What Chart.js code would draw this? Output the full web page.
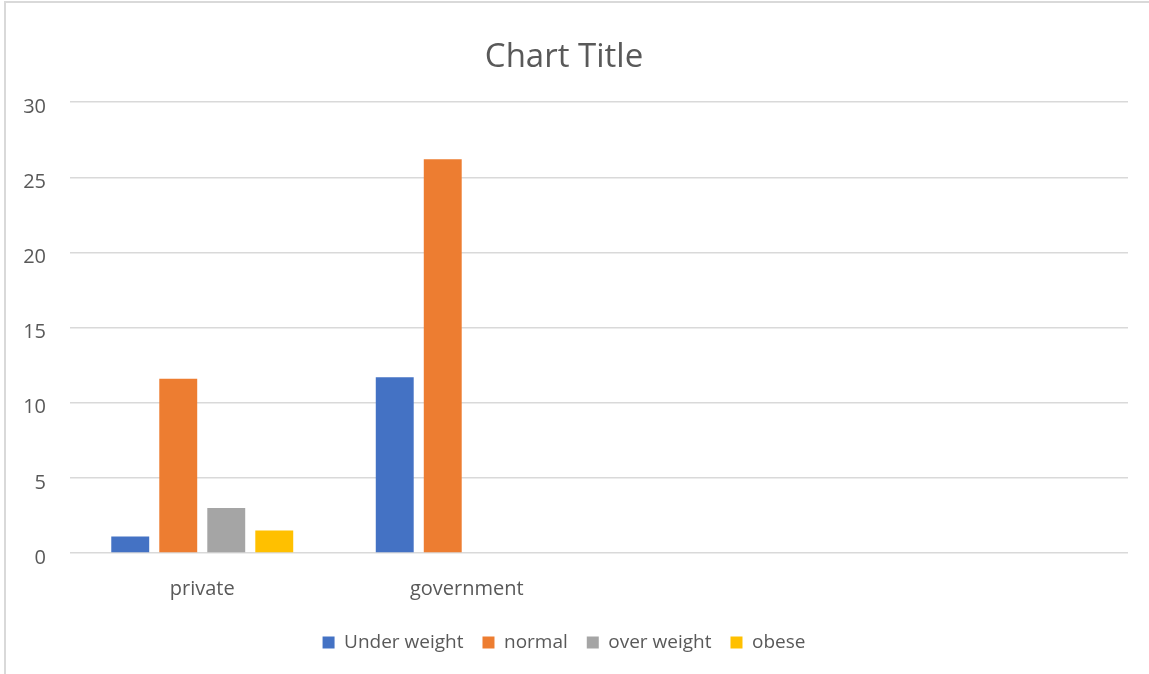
<!DOCTYPE html>
<html>
<head>
<meta charset="utf-8">
<script src="https://cdn.jsdelivr.net/npm/chart.js@4/dist/chart.umd.min.js"></script>
<style>
    html, body { margin: 0; padding: 0; background: #fff; overflow: hidden; }
    #wrap { position: absolute; left: 0; top: 0; width: 1149px; height: 674px; }
    #frame { position: absolute; left: 4px; top: 1px; width: 1400px; height: 900px;
             border-left: 2px solid #d9d9d9; border-top: 2px solid #d9d9d9; pointer-events: none; }
</style>
</head>
<body>
<div id="wrap"><canvas id="grafico"></canvas></div>
<div id="frame"></div>
<script>
// categorias e séries
const categorias = ['private', 'government', '', ''];
const underWeight = [1.1, 11.7, null, null];
const normal = [11.6, 26.2, null, null];
const overWeight = [3, null, null, null];
const obese = [1.5, null, null, null];
const ticksY = [0, 5, 10, 15, 20, 25, 30];

const corTexto = '#595959';
const fonte = "'Open Sans', sans-serif";

function serie(label, data, cor) {
    return {
        label: label,
        data: data,
        backgroundColor: cor,
        borderWidth: 0,
        categoryPercentage: 0.726,
        barPercentage: 0.79
    };
}

const ctx = document.getElementById('grafico').getContext('2d');
new Chart(ctx, {
    type: 'bar',
    data: {
        labels: categorias,
        datasets: [
            serie('Under weight', underWeight, '#4472C4'),
            serie('normal', normal, '#ED7D31'),
            serie('over weight', overWeight, '#A5A5A5'),
            serie('obese', obese, '#FFC000')
        ]
    },
    options: {
        responsive: true,
        maintainAspectRatio: false,
        animation: false,
        layout: { padding: { left: 0, right: 21, top: 0, bottom: 12 } },
        plugins: {
            title: {
                display: true,
                text: 'Chart Title',
                color: corTexto,
                font: { family: fonte, size: 33, weight: 'normal' },
                padding: { top: 38, bottom: 24.6 }
            },
            legend: {
                position: 'bottom',
                labels: {
                    boxWidth: 12,
                    boxHeight: 12,
                    padding: 19,
                    color: corTexto,
                    font: { family: fonte, size: 19 }
                }
            },
            tooltip: { enabled: false }
        },
        scales: {
            x: {
                grid: { display: false, drawTicks: false },
                border: { display: false },
                ticks: {
                    color: corTexto,
                    font: { family: fonte, size: 20 },
                    padding: 24,
                    maxRotation: 0
                },
                afterFit: s => { s.height = 61; }
            },
            y: {
                min: ticksY[0],
                max: ticksY[ticksY.length - 1],
                afterBuildTicks: s => { s.ticks = ticksY.map(v => ({ value: v })); },
                grid: { color: '#d9d9d9', lineWidth: 1.5, drawTicks: false },
                border: { display: false },
                ticks: {
                    color: corTexto,
                    font: { family: fonte, size: 20 },
                    padding: 24,
                    labelOffset: 5
                },
                afterFit: s => { s.width = 70; }
            }
        }
    }
});
</script>
</body>
</html>
